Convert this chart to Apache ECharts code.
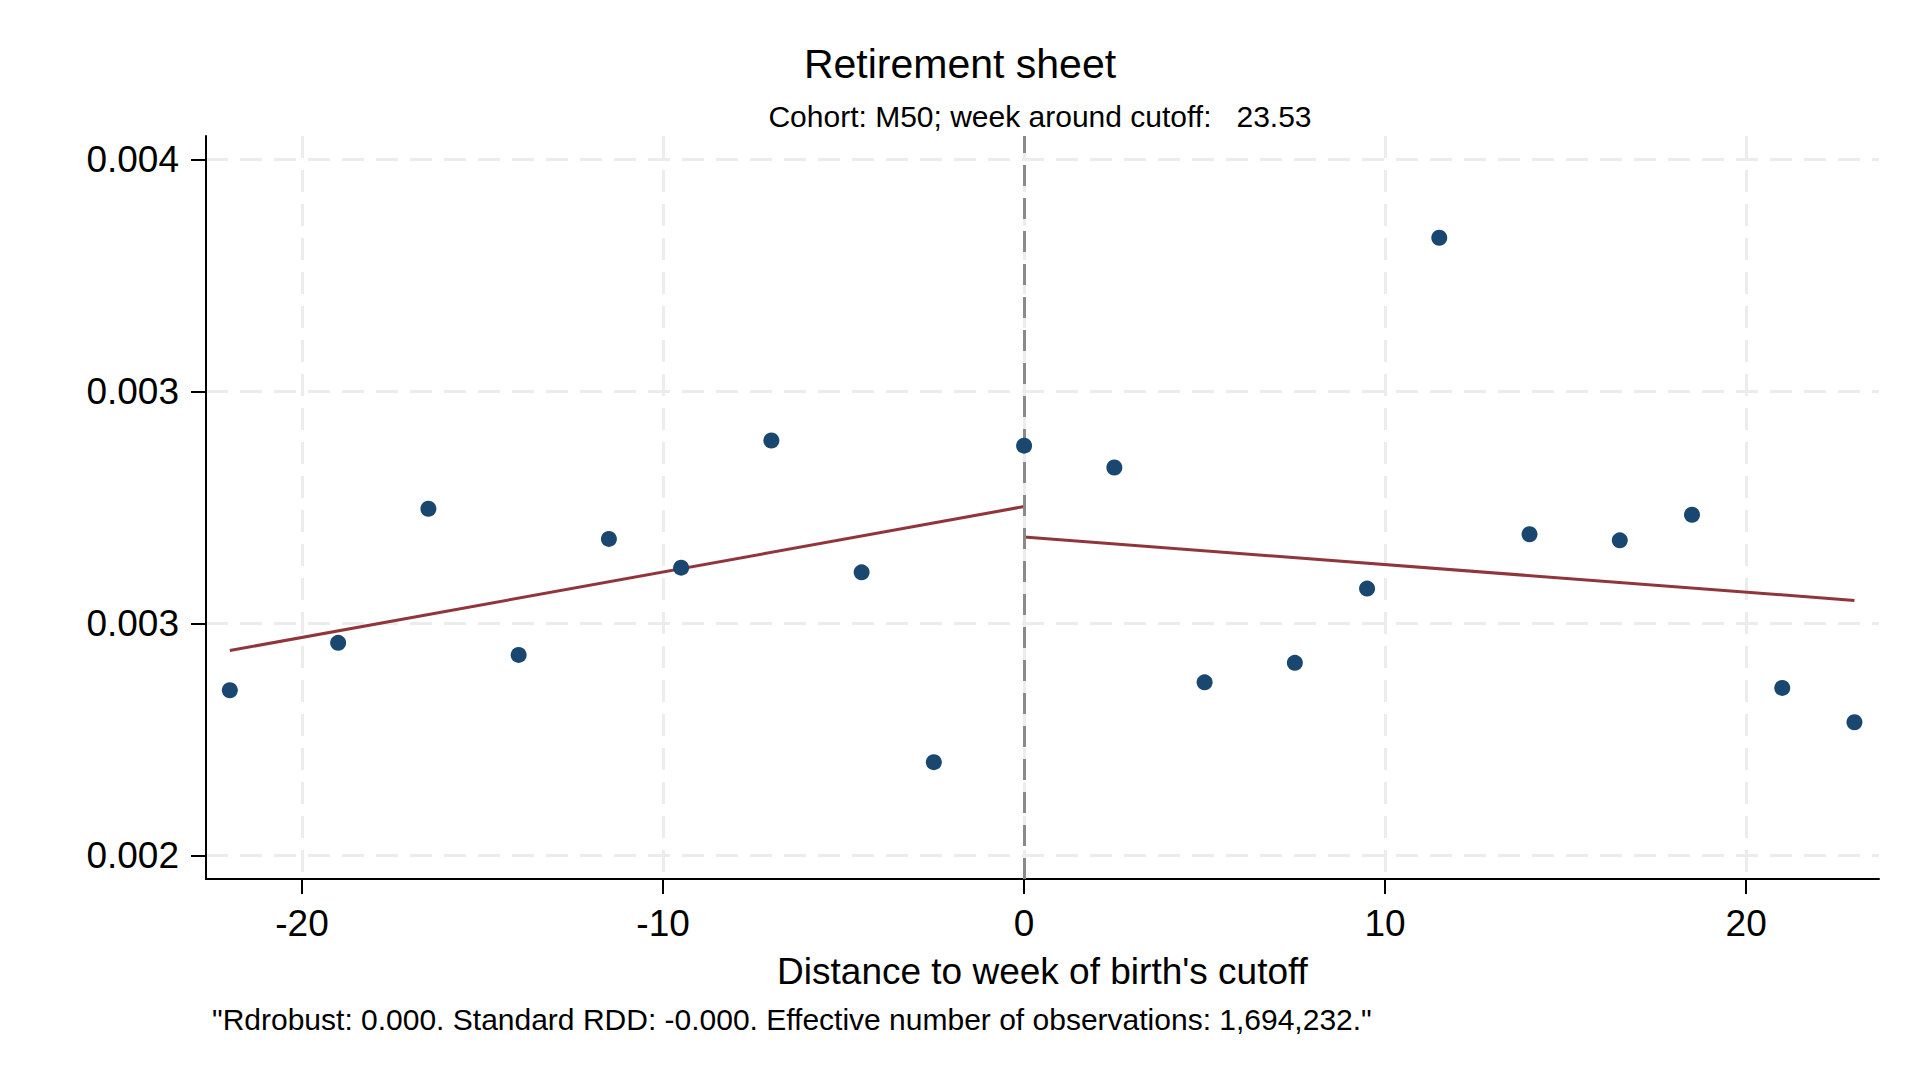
<!DOCTYPE html>
<html>
<head>
<meta charset="utf-8">
<title>Retirement sheet</title>
<script src="https://cdn.jsdelivr.net/npm/echarts@6.0.0/dist/echarts.min.js"></script>
<style>
  html, body { margin: 0; padding: 0; background: #fff; }
  #chart { width: 1920px; height: 1080px; }
</style>
</head>
<body>
<div id="chart"></div>
<script>
// binned means (distance to cutoff, share)
var binX = [-22, -19, -16.5, -14, -11.5, -9.5, -7, -4.5, -2.5, 0, 2.5, 5, 7.5, 9.5, 11.5, 14, 16.5, 18.5, 21, 23];
var binY = [0.002856, 0.002958, 0.003247, 0.002932, 0.003182, 0.003120, 0.003394, 0.003110, 0.002701, 0.003383,
            0.003336, 0.002873, 0.002915, 0.003075, 0.003831, 0.003192, 0.003179, 0.003234, 0.002861, 0.002787];

// linear fits each side of the cutoff
var fitLeftX = [-22, 0];
var fitLeftY = [0.0029416, 0.0032518];
var fitRightX = [0, 23];
var fitRightY = [0.0031859, 0.0030495];

// tick values and the labels Stata printed for them (%9.3f)
var xTicks = [-20, -10, 0, 10, 20];
var yTicks = [0.0025, 0.003, 0.0035, 0.004];
var yTickLabels = ['0.002', '0.003', '0.003', '0.004'];

var titleText = 'Retirement sheet';
var subText = 'Cohort: M50; week around cutoff:   23.53';
var xName = "Distance to week of birth's cutoff";
var noteText = '"Rdrobust: 0.000. Standard RDD: -0.000. Effective number of observations: 1,694,232."';

var FONT = '"Liberation Sans", Arial, Helvetica, sans-serif';

function pairs(xs, ys) {
    return xs.map(function (x, i) { return [x, ys[i]]; });
}

var chart = echarts.init(document.getElementById('chart'), null, { renderer: 'svg' });

var option = {
    backgroundColor: '#ffffff',
    animation: false,
    grid: { left: 206, right: 41, top: 136, bottom: 201 },
    graphic: [
        {
            type: 'text', x: 960, y: 64,
            style: {
                text: titleText, fontSize: 41, fontFamily: FONT, fill: '#000',
                align: 'center', verticalAlign: 'middle', textAlign: 'center', textVerticalAlign: 'middle'
            }
        },
        {
            type: 'text', x: 1040, y: 116,
            style: {
                text: subText, fontSize: 30, fontFamily: FONT, fill: '#000',
                align: 'center', verticalAlign: 'middle', textAlign: 'center', textVerticalAlign: 'middle'
            }
        },
        {
            type: 'text', x: 212, y: 1019,
            style: {
                text: noteText, fontSize: 30, fontFamily: FONT, fill: '#000',
                align: 'left', verticalAlign: 'middle', textAlign: 'left', textVerticalAlign: 'middle'
            }
        }
    ],
    xAxis: {
        type: 'value',
        min: -22.66,
        max: 23.68,
        name: xName,
        nameLocation: 'middle',
        nameGap: 92,
        nameTextStyle: { fontSize: 37, fontFamily: FONT, color: '#000', verticalAlign: 'middle' },
        axisLine: { show: true, onZero: false, lineStyle: { color: '#000', width: 2 } },
        axisTick: { show: true, length: 15, lineStyle: { color: '#000', width: 2 }, customValues: xTicks },
        axisLabel: {
            customValues: xTicks, fontSize: 37, fontFamily: FONT, color: '#000',
            margin: 44, verticalAlign: 'middle'
        },
        splitLine: { show: true, lineStyle: { color: '#ececec', width: 3, type: [22, 12] } }
    },
    yAxis: {
        type: 'value',
        min: 0.0024492,
        max: 0.0040502,
        axisLine: { show: true, onZero: false, lineStyle: { color: '#000', width: 2 } },
        axisTick: { show: true, length: 15, lineStyle: { color: '#000', width: 2 }, customValues: yTicks },
        axisLabel: {
            customValues: yTicks, fontSize: 37, fontFamily: FONT, color: '#000', margin: 27,
            formatter: function (v) {
                for (var i = 0; i < yTicks.length; i++) {
                    if (Math.abs(v - yTicks[i]) < 1e-9) return yTickLabels[i];
                }
                return '';
            }
        },
        splitLine: { show: true, lineStyle: { color: '#ececec', width: 3, type: [22, 12] } }
    },
    series: [
        {
            name: 'Bins',
            type: 'scatter',
            data: pairs(binX, binY),
            symbol: 'circle',
            symbolSize: 16,
            itemStyle: { color: '#1a476f', opacity: 1 },
            z: 5,
            markLine: {
                silent: true,
                symbol: ['none', 'none'],
                label: { show: false },
                lineStyle: { color: '#8a8a8a', width: 3, type: [21, 12] },
                data: [{ xAxis: 0 }]
            }
        },
        {
            name: 'Fit left',
            type: 'line',
            data: pairs(fitLeftX, fitLeftY),
            showSymbol: false,
            lineStyle: { color: '#90353b', width: 3 },
            z: 4
        },
        {
            name: 'Fit right',
            type: 'line',
            data: pairs(fitRightX, fitRightY),
            showSymbol: false,
            lineStyle: { color: '#90353b', width: 3 },
            z: 4
        }
    ]
};

chart.setOption(option);
</script>
</body>
</html>
